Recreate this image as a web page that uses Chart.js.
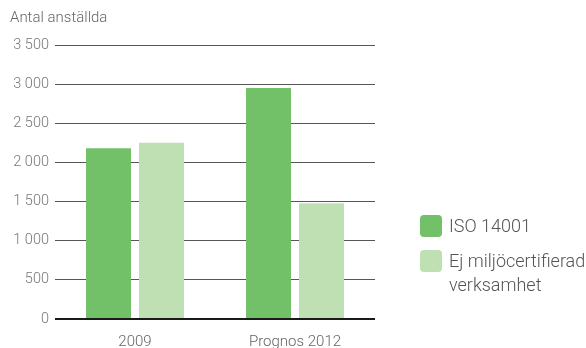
<!DOCTYPE html>
<html>
<head>
<meta charset="utf-8">
<script src="https://cdn.jsdelivr.net/npm/chart.js@4"></script>
<style>
  body { margin: 0; background: #fff; font-family: Roboto, "Liberation Sans", sans-serif; }
  #wrap { position: relative; width: 586px; height: 348px; }
  #title { position: absolute; left: 10px; top: 8px; font-size: 15px; font-weight: 300; color: #666; }
  .leg { position: absolute; left: 420px; font-size: 18px; font-weight: 300; color: #555; line-height: 24px; }
  .leg span.box { position: absolute; left: 0; top: 0; width: 22px; height: 22px; border-radius: 4px; }
  .leg span.txt { position: absolute; left: 29px; top: -1px; white-space: nowrap; }
</style>
</head>
<body>
<div id="wrap">
  <canvas id="chart" width="586" height="348"></canvas>
  <div id="title">Antal anställda</div>
  <div class="leg" style="top:215px"><span class="box" style="background:#72c168"></span><span class="txt">ISO 14001</span></div>
  <div class="leg" style="top:250px"><span class="box" style="background:#bfe0b3"></span><span class="txt">Ej miljöcertifierad<br>verksamhet</span></div>
</div>
<script>
const categories = ["2009", "Prognos 2012"];
const isoValues = [2180, 2950];
const ejValues = [2250, 1480];
const yTicks = [0, 500, 1000, 1500, 2000, 2500, 3000, 3500];

// space as thousand separator, e.g. 3 500
const fmt = (v) => String(v).replace(/\B(?=(\d{3})+(?!\d))/g, " ");

const ctx = document.getElementById("chart").getContext("2d");
new Chart(ctx, {
  type: "bar",
  data: {
    labels: categories,
    datasets: [
      { label: "ISO 14001", data: isoValues, backgroundColor: "#72c168" },
      { label: "Ej miljöcertifierad verksamhet", data: ejValues, backgroundColor: "#bfe0b3" },
    ],
  },
  options: {
    responsive: false,
    animation: false,
    layout: { padding: { top: 45, right: 211, left: 0, bottom: 0 } },
    categoryPercentage: 0.6625,
    barPercentage: 0.849,
    plugins: { legend: { display: false }, tooltip: { enabled: false } },
    scales: {
      x: {
        grid: { display: false },
        border: { display: false },
        ticks: {
          color: "#666",
          padding: 6,
          font: { family: "Roboto", size: 15, weight: 300 },
        },
        afterFit: (scale) => { scale.height = 29; },
      },
      y: {
        min: 0,
        max: 3500,
        afterBuildTicks: (scale) => { scale.ticks = yTicks.map((v) => ({ value: v })); },
        afterFit: (scale) => { scale.width = 55; },
        border: { display: false },
        grid: {
          drawTicks: false,
          color: (c) => (c.tick && c.tick.value === 0 ? "#1a1a1a" : "#555"),
          lineWidth: (c) => (c.tick && c.tick.value === 0 ? 2 : 1),
        },
        ticks: {
          color: "#777",
          padding: 6,
          callback: (v) => fmt(v),
          font: { family: "Roboto", size: 14.5, weight: 300 },
        },
      },
    },
  },
});
</script>
</body>
</html>
